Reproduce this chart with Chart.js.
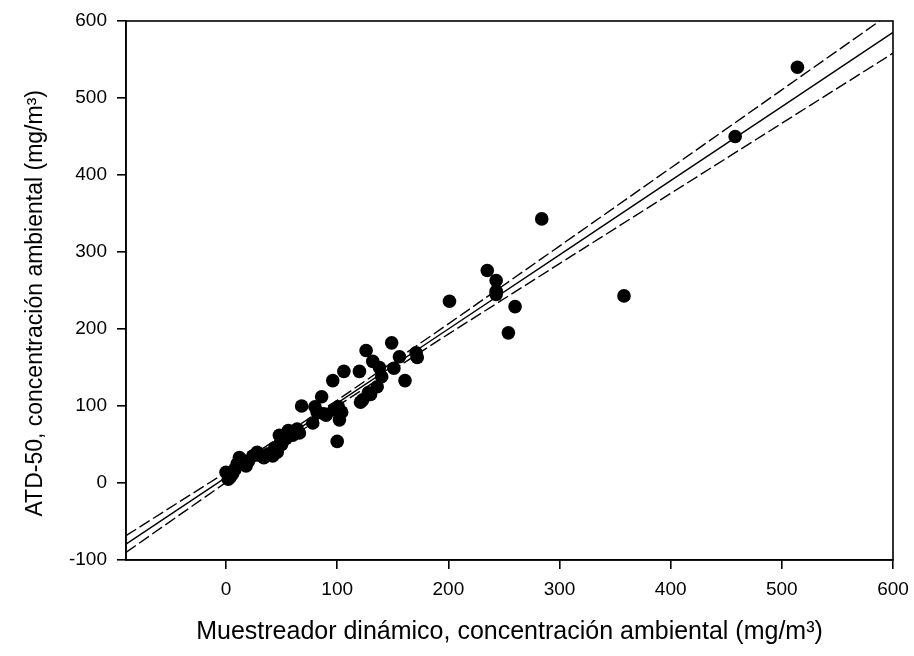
<!DOCTYPE html>
<html>
<head>
<meta charset="utf-8">
<script src="https://cdn.jsdelivr.net/npm/chart.js@4.4.0/dist/chart.umd.min.js"></script>
<style>
  html, body { margin: 0; padding: 0; background: #fff; }
  #wrap { width: 914px; height: 656px; }
</style>
</head>
<body>
<div id="wrap"><canvas id="c"></canvas></div>
<script>
// measured points (muestreador dinamico, ATD-50)
const ptX = [0, 2, 4, 6, 8, 10, 12, 14, 18, 20, 24, 28, 30, 34, 38, 42, 44, 46, 48, 50,
  54, 56, 60, 64, 66, 68, 78, 80, 82, 86, 88, 90, 96, 97, 100, 101, 102, 104, 106, 120,
  121, 123, 126, 128, 130, 132, 136, 138, 140, 149, 151, 156, 161, 171, 172,
  201, 235, 243, 243, 243, 254, 260, 284, 358, 458, 514];
const ptY = [14, 5, 8, 12, 18, 25, 33, 30, 22, 28, 35, 40, 36, 33, 38, 35, 46, 40, 62, 50,
  58, 68, 62, 70, 65, 100, 78, 99, 92, 112, 90, 88, 133, 95, 54, 99, 82, 92, 145, 145,
  105, 108, 172, 117, 115, 158, 125, 150, 138, 182, 149, 164, 133, 169, 163,
  236, 276, 263, 249, 245, 195, 229, 343, 243, 450, 540];

// regression line and 95% bands, read at these x positions
const bandX = [-90, 0, 100, 200, 300, 400, 500, 600];
const fitY = [-79.3, 7.4, 103.7, 200.0, 296.3, 392.6, 488.9, 585.2];
const upperY = [-68.4, 14.0, 107.5, 206.6, 307.7, 409.1, 510.6, 612.2];
const lowerY = [-90.1, 0.8, 99.9, 193.4, 284.9, 376.1, 467.2, 558.2];

const xTicks = [0, 100, 200, 300, 400, 500, 600];
const yTicks = [-100, 0, 100, 200, 300, 400, 500, 600];

const FONT = "'Liberation Sans', Arial, sans-serif";

function pairs(xs, ys) {
  return xs.map((x, i) => ({ x: x, y: ys[i] }));
}

const frame = {
  id: 'frame',
  afterDraw(chart) {
    const a = chart.chartArea;
    const ctx = chart.ctx;
    ctx.save();
    ctx.strokeStyle = '#000';
    ctx.lineWidth = 1.6;
    ctx.strokeRect(a.left, a.top, a.right - a.left, a.bottom - a.top);
    ctx.restore();
  }
};

const lineStyle = (dash) => ({
  type: 'line',
  borderColor: '#000',
  borderWidth: 1.4,
  borderDash: dash,
  pointRadius: 0,
  fill: false,
  tension: 0,
});

new Chart(document.getElementById('c'), {
  type: 'scatter',
  data: {
    datasets: [
      Object.assign({ label: 'ajuste', data: pairs(bandX, fitY) }, lineStyle([])),
      Object.assign({ label: 'sup', data: pairs(bandX, upperY) }, lineStyle([12, 4])),
      Object.assign({ label: 'inf', data: pairs(bandX, lowerY) }, lineStyle([12, 4])),
      {
        label: 'datos',
        data: pairs(ptX, ptY),
        backgroundColor: '#000',
        borderColor: '#000',
        pointRadius: 6.8,
        borderWidth: 0,
      },
    ]
  },
  options: {
    animation: false,
    responsive: true,
    maintainAspectRatio: false,
    layout: { padding: { left: 0, right: 21, top: 21, bottom: 0 } },
    plugins: {
      legend: { display: false },
      tooltip: { enabled: false },
    },
    scales: {
      x: {
        type: 'linear',
        min: -90,
        max: 600,
        afterBuildTicks: (s) => { s.ticks = xTicks.map(v => ({ value: v })); },
        afterFit: (s) => { s.height = 96; s.paddingLeft = 0; s.paddingRight = 0; },
        grid: { drawOnChartArea: false, drawTicks: true, tickLength: 9, color: '#000', lineWidth: 1.6 },
        border: { display: true, color: '#000', width: 1.6 },
        ticks: { color: '#000', font: { family: FONT, size: 19 }, padding: 9, maxRotation: 0 },
        title: {
          display: true,
          text: 'Muestreador dinámico, concentración ambiental (mg/m³)',
          color: '#000',
          font: { family: FONT, size: 25 },
          padding: { top: 0, bottom: 9 },
        },
      },
      y: {
        type: 'linear',
        min: -100,
        max: 600,
        afterBuildTicks: (s) => { s.ticks = yTicks.map(v => ({ value: v })); },
        afterFit: (s) => { s.width = 126; s.paddingTop = 0; s.paddingBottom = 0; },
        grid: { drawOnChartArea: false, drawTicks: true, tickLength: 9, color: '#000', lineWidth: 1.6 },
        border: { display: true, color: '#000', width: 1.6 },
        ticks: { color: '#000', font: { family: FONT, size: 19 }, padding: 10 },
        title: {
          display: true,
          text: 'ATD-50, concentración ambiental (mg/m³)\u00a0\u00a0\u00a0\u00a0',
          color: '#000',
          font: { family: FONT, size: 23 },
          padding: { top: 22, bottom: 0 },
        },
      },
    },
  },
  plugins: [frame],
});
</script>
</body>
</html>
